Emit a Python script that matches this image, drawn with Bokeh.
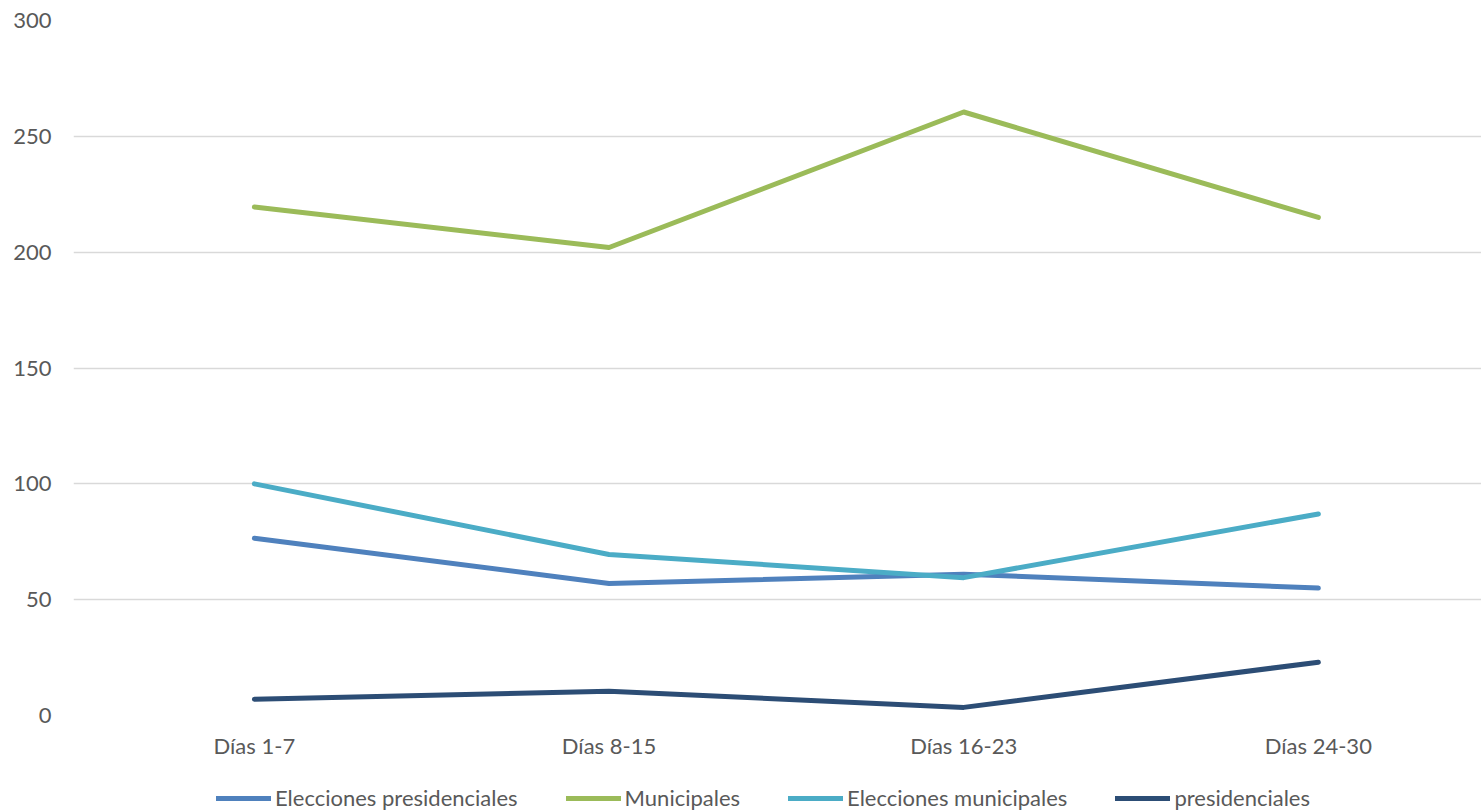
from bokeh.plotting import figure
from bokeh.models import Range1d, FixedTicker, Legend, LegendItem
from bokeh.layouts import column
from bokeh.embed import file_html
from bokeh.resources import INLINE

categories = ["Días 1-7", "Días 8-15", "Días 16-23", "Días 24-30"]
elecciones_presidenciales = [76.5, 57, 61, 55]
municipales = [219.5, 202, 260.5, 215]
elecciones_municipales = [100, 69.5, 59.5, 87]
presidenciales = [7, 10.5, 3.5, 23]
y_ticks = [0, 50, 100, 150, 200, 250, 300]

series = [
    ("Elecciones presidenciales", elecciones_presidenciales, "#4f81bd"),
    ("Municipales", municipales, "#9bbb59"),
    ("Elecciones municipales", elecciones_municipales, "#4bacc6"),
    ("presidenciales", presidenciales, "#2c4d75"),
]

FONT = "Lato"
TXT = "#595959"

p = figure(frame_width=1408, frame_height=695, output_backend="svg", toolbar_location=None,
           x_range=Range1d(-0.51, 3.46), y_range=Range1d(0, 300),
           min_border_left=73, min_border_right=0, min_border_top=20,
           min_border_bottom=43)
p.outline_line_color = None
p.background_fill_color = "white"
p.border_fill_color = "white"

xs = list(range(len(categories)))
for name, vals, color in series:
    p.line(xs, vals, line_color=color, line_width=5, line_cap="round", line_join="round")

p.xaxis.ticker = FixedTicker(ticks=xs)
p.xaxis.major_label_overrides = {i: c for i, c in enumerate(categories)}
p.yaxis.ticker = FixedTicker(ticks=y_ticks)

for ax in (p.xaxis[0], p.yaxis[0]):
    ax.axis_line_color = None
    ax.major_tick_line_color = None
    ax.minor_tick_line_color = None
    ax.major_tick_in = 0
    ax.major_tick_out = 0
    ax.major_label_text_font = FONT
    ax.major_label_text_font_size = "22px"
    ax.major_label_text_color = TXT
p.yaxis.major_label_standoff = 22
p.xaxis.major_label_standoff = 16

p.xgrid.grid_line_color = None
p.ygrid.grid_line_color = "#d9d9d9"
p.ygrid.grid_line_width = 1.5
p.ygrid.ticker = FixedTicker(ticks=y_ticks)

# legend strip below the chart (series drawn out of view, only the legend shows)
leg = figure(frame_width=1481, frame_height=53, output_backend="svg", toolbar_location=None,
             x_range=Range1d(100, 101), y_range=Range1d(1000, 1001),
             min_border_left=0, min_border_right=0, min_border_top=0, min_border_bottom=0,
             x_axis_location=None, y_axis_location=None)
leg.outline_line_color = None
leg.xgrid.visible = False
leg.ygrid.visible = False
items = []
for name, vals, color in series:
    r = leg.line(xs, vals, line_color=color, line_width=5, line_cap="round")
    items.append(LegendItem(label=name, renderers=[r]))

legend = Legend(items=items, orientation="horizontal", location=(216, 3),
                label_text_font=FONT, label_text_font_size="22px",
                label_text_color=TXT, glyph_width=55, glyph_height=24,
                label_standoff=4, spacing=48, border_line_color=None,
                background_fill_alpha=0, margin=0, padding=0)
leg.add_layout(legend, "center")

layout = column(p, leg, spacing=0)
open("out.html", "w").write(file_html(layout, INLINE))
